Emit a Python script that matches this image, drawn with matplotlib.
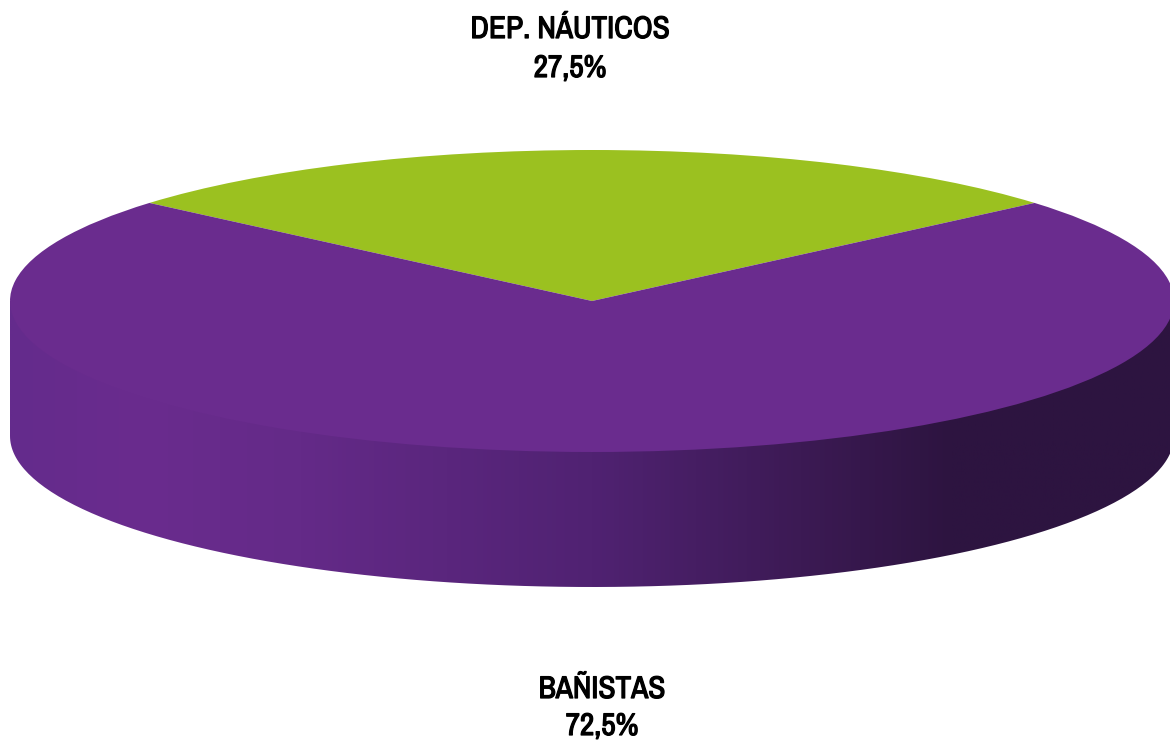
"""3D style pie chart of beach users, banistas vs nautical sports."""

import numpy as np
import matplotlib.pyplot as plt
import matplotlib.patheffects as pe
from matplotlib.colors import LinearSegmentedColormap
from matplotlib.patches import PathPatch
from matplotlib.path import Path

labels = ["DEP. NÁUTICOS", "BAÑISTAS"]
values = [27.5, 72.5]
value_labels = ["27,5%", "72,5%"]
colors = ["#9bc120", "#6a2c8e"]

W, H = 1170, 740

# geometry of the disc, in pixels
cx, cy = 592, 301
rx, ry = 582, 151
depth = 135

plt.rcParams["font.family"] = ["Archivo Narrow", "Roboto Condensed", "Liberation Sans", "DejaVu Sans"]

fig = plt.figure(figsize=(W / 100, H / 100), dpi=100)
ax = fig.add_axes([0, 0, 1, 1])

# side wall: the disc pushed down, the top face covers its upper part
t = np.linspace(np.pi, 0, 200)
low_x, low_y = cx + rx * np.cos(t), cy + depth + ry * np.sin(t)
wall = np.column_stack([np.r_[low_x, cx + rx, cx - rx], np.r_[low_y, cy, cy]])
wall_patch = PathPatch(Path(wall), transform=ax.transData, fc="none", ec="none")
ax.add_patch(wall_patch)

shade = LinearSegmentedColormap.from_list(
    "wall",
    [
        (0.0, "#642b8c"),
        (0.11, "#6a2c8e"),
        (0.25, "#642a88"),
        (0.5, "#502272"),
        (0.68, "#3c1a54"),
        (0.81, "#2d1440"),
        (1.0, "#2d1440"),
    ],
)
img = ax.imshow(
    np.linspace(0, 1, 512)[None, :],
    cmap=shade,
    extent=[cx - rx, cx + rx, cy + ry + depth, cy],
    aspect="auto",
)
img.set_clip_path(wall_patch)

ax.set_xlim(0, W)
ax.set_ylim(H, 0)
ax.axis("off")

# top face, the pie squashed into the ellipse box
top = fig.add_axes([(cx - rx) / W, 1 - (cy + ry) / H, 2 * rx / W, 2 * ry / H])
top.pie(
    values,
    colors=colors,
    startangle=90 - values[0] * 3.6 / 2,
    wedgeprops={"linewidth": 0},
)
top.set_aspect("auto")
top.set_xlim(-1, 1)
top.set_ylim(-1, 1)

# the narrow font only comes in regular weight here, a thin stroke makes it bold
bold = [pe.withStroke(linewidth=0.9, foreground="black")]
txt = dict(ha="center", va="center", fontsize=22.5, fontweight="bold", path_effects=bold)
ax.text(570, 29, labels[0], **txt)
ax.text(570, 68, value_labels[0], **txt)
ax.text(602, 689, labels[1], **txt)
ax.text(602, 726, value_labels[1], **txt)

fig.savefig("out.png", dpi=100)
